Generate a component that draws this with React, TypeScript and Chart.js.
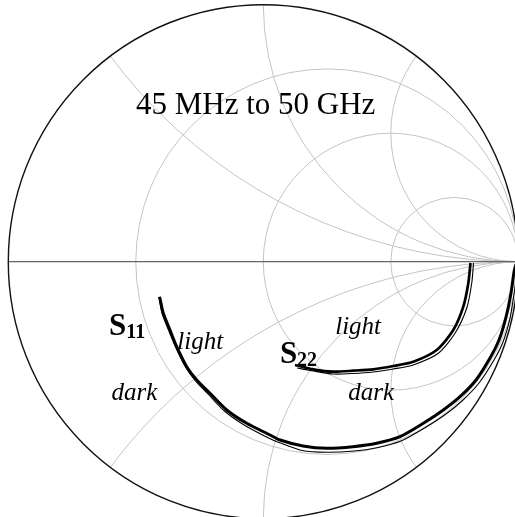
import React, { useEffect, useRef } from "react";
import { Chart, registerables } from "chart.js";

Chart.register(...registerables);

// Reflection-coefficient traces (normalized Γ: real, imag)
const s11LightRe = [-0.4067, -0.3922, -0.3659, -0.3396, -0.3004, -0.2612, -0.209, -0.1435, -0.0651, 0.0263, 0.0655, 0.1557, 0.2486, 0.3518, 0.4447, 0.5361, 0.6275, 0.7059, 0.7714, 0.8341, 0.889, 0.9243, 0.9518, 0.9714, 0.9831, 0.991];
const s11LightIm = [-0.1362, -0.2008, -0.2658, -0.3307, -0.4086, -0.4603, -0.5121, -0.577, -0.6288, -0.6743, -0.6938, -0.7171, -0.7261, -0.7198, -0.7066, -0.6809, -0.6288, -0.577, -0.5253, -0.4603, -0.3747, -0.3047, -0.2152, -0.1218, -0.0401, -0.009];
const s11DarkRe = [-0.409, -0.3973, -0.3718, -0.3443, -0.3051, -0.2659, -0.2149, -0.1502, -0.0718, 0.0204, 0.0616, 0.1518, 0.2486, 0.3557, 0.4459, 0.54, 0.6341, 0.7165, 0.7831, 0.8459, 0.9047, 0.94, 0.9675, 0.9831, 0.9949, 0.9988];
const s11DarkIm = [-0.1374, -0.1996, -0.2658, -0.3319, -0.4097, -0.4642, -0.5167, -0.5829, -0.6374, -0.686, -0.7035, -0.7346, -0.7416, -0.7366, -0.7237, -0.6977, -0.6459, -0.5926, -0.5381, -0.472, -0.3825, -0.3125, -0.2191, -0.1257, -0.0401, -0.0051];
const s22LightRe = [0.1243, 0.1961, 0.2745, 0.3529, 0.4314, 0.5098, 0.5882, 0.68, 0.7451, 0.7843, 0.8039, 0.8125];
const s22LightIm = [-0.4019, -0.4187, -0.428, -0.4241, -0.4187, -0.4058, -0.3891, -0.3436, -0.2658, -0.1751, -0.084, -0.0051];
const s22DarkRe = [0.1322, 0.1961, 0.2745, 0.3529, 0.4314, 0.5098, 0.5882, 0.6863, 0.7518, 0.7976, 0.8173, 0.8243];
const s22DarkIm = [-0.4136, -0.4253, -0.437, -0.435, -0.4292, -0.4175, -0.4019, -0.3564, -0.2786, -0.1813, -0.084, -0.0051];

// Smith chart grid values
const resistanceCircles = [1 / 3, 1, 3];
const reactanceArcs = [0.5, 1, 2];

const titleText = "45 MHz to 50 GHz";

const toPts = (re: number[], im: number[]) => re.map((x, i) => ({ x, y: im[i] }));

const smithGrid = {
  id: "smithGrid",
  beforeDatasetsDraw(chart: any) {
    const { ctx } = chart;
    const xs = chart.scales.x;
    const ys = chart.scales.y;
    const px = (v: number) => xs.getPixelForValue(v);
    const py = (v: number) => ys.getPixelForValue(v);
    const kx = px(1) - px(0);
    const ky = py(0) - py(1);
    const cx = px(0);
    const cy = py(0);
    ctx.save();
    ctx.beginPath();
    ctx.ellipse(cx, cy, kx, ky, 0, 0, Math.PI * 2);
    ctx.clip();
    ctx.strokeStyle = "#c4c4c4";
    ctx.lineWidth = 1;
    resistanceCircles.forEach((r) => {
      const c = r / (1 + r);
      const rad = 1 / (1 + r);
      ctx.beginPath();
      ctx.ellipse(px(c), py(0), rad * kx, rad * ky, 0, 0, Math.PI * 2);
      ctx.stroke();
    });
    reactanceArcs.forEach((x) => {
      [1, -1].forEach((s) => {
        const rad = 1 / x;
        ctx.beginPath();
        ctx.ellipse(px(1), py(s / x), rad * kx, rad * ky, 0, 0, Math.PI * 2);
        ctx.stroke();
      });
    });
    ctx.restore();
    ctx.save();
    ctx.strokeStyle = "#666";
    ctx.lineWidth = 1.3;
    ctx.beginPath();
    ctx.moveTo(px(-1), cy);
    ctx.lineTo(px(1), cy);
    ctx.stroke();
    ctx.strokeStyle = "#111";
    ctx.lineWidth = 1.4;
    ctx.beginPath();
    ctx.ellipse(cx, cy, kx, ky, 0, 0, Math.PI * 2);
    ctx.stroke();
    ctx.restore();
  },
  afterDatasetsDraw(chart: any) {
    const { ctx } = chart;
    const xs = chart.scales.x;
    const ys = chart.scales.y;
    const px = (v: number) => xs.getPixelForValue(v);
    const py = (v: number) => ys.getPixelForValue(v);
    const serif = '"Liberation Serif", "DejaVu Serif", serif';
    ctx.save();
    ctx.fillStyle = "#000";
    ctx.textBaseline = "alphabetic";
    ctx.textAlign = "center";
    ctx.font = `31px ${serif}`;
    ctx.fillText(titleText, px(-0.03), py(0.575));

    const sub = (main: string, subs: string, x: number, y: number) => {
      ctx.textAlign = "left";
      ctx.font = `bold 31px ${serif}`;
      ctx.fillText(main, x, y);
      const w = ctx.measureText(main).width;
      ctx.font = `bold 20px ${serif}`;
      ctx.fillText(subs, x + w, y + 3);
    };
    sub("S", "11", px(-0.605), py(-0.285));
    sub("S", "22", px(0.065), py(-0.395));

    ctx.font = `italic 25px ${serif}`;
    ctx.textAlign = "left";
    ctx.fillText("light", px(-0.337), py(-0.34));
    ctx.fillText("dark", px(-0.595), py(-0.538));
    ctx.fillText("light", px(0.282), py(-0.28));
    ctx.fillText("dark", px(0.333), py(-0.538));
    ctx.restore();
  },
};

export default function App() {
  const ref = useRef<HTMLCanvasElement | null>(null);
  useEffect(() => {
    if (!ref.current) return;
    const chart = new Chart(ref.current, {
      type: "scatter",
      data: {
        datasets: [
          { label: "S11 dark", data: toPts(s11DarkRe, s11DarkIm), showLine: true, borderColor: "#000", borderWidth: 1.1, pointRadius: 0, tension: 0.25 },
          { label: "S11 light", data: toPts(s11LightRe, s11LightIm), showLine: true, borderColor: "#000", borderWidth: 3, pointRadius: 0, tension: 0.25 },
          { label: "S22 dark", data: toPts(s22DarkRe, s22DarkIm), showLine: true, borderColor: "#000", borderWidth: 1.1, pointRadius: 0, tension: 0.25 },
          { label: "S22 light", data: toPts(s22LightRe, s22LightIm), showLine: true, borderColor: "#000", borderWidth: 2.7, pointRadius: 0, tension: 0.25 },
        ],
      },
      options: {
        animation: false,
        responsive: false,
        maintainAspectRatio: false,
        devicePixelRatio: 1,
        layout: { padding: 0 },
        events: [],
        scales: {
          x: { type: "linear", min: -1.0325, max: 0.987, display: false },
          y: { type: "linear", min: -0.9934, max: 1.0183, display: false },
        },
        plugins: { legend: { display: false }, tooltip: { enabled: false } },
      },
      plugins: [smithGrid],
    });
    return () => chart.destroy();
  }, []);
  return (
    <div style={{ position: "fixed", left: 0, top: 0, width: 515, height: 517, overflow: "hidden", background: "#fff" }}>
      <canvas ref={ref} width={515} height={517} style={{ display: "block", width: 515, height: 517 }} />
    </div>
  );
}
